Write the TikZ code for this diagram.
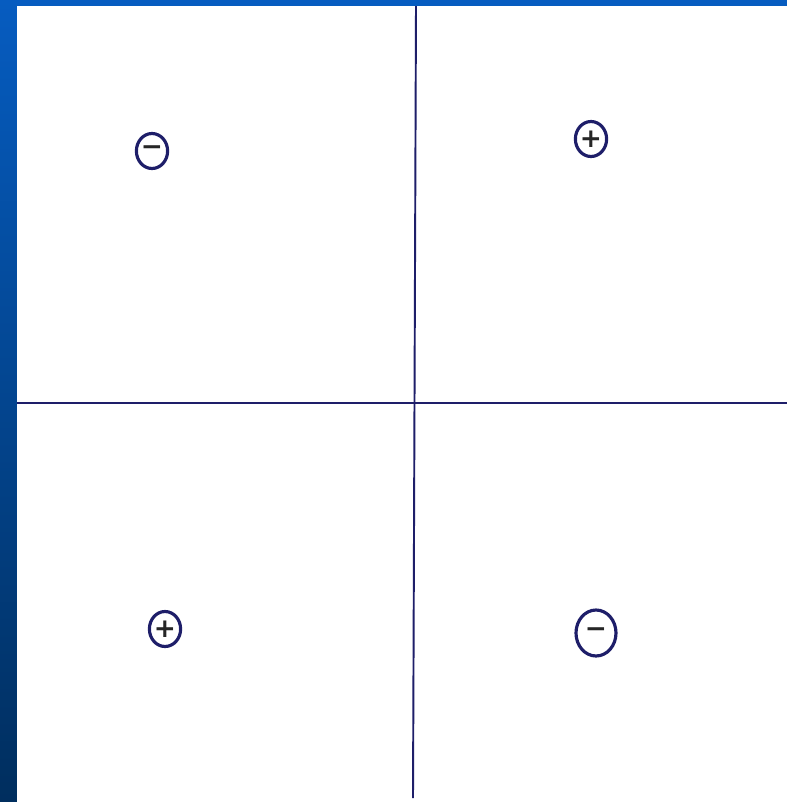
\documentclass[tikz,border=0pt]{standalone}
\usepackage{fontspec}
\newfontfamily\signfont{DejaVu Sans}
\usepackage{tikz}
\usetikzlibrary{shapes.geometric}
\definecolor{ink}{RGB}{30,30,105}
\definecolor{bandtop}{RGB}{6,92,192}
\definecolor{bandbot}{RGB}{0,46,94}
\newlength{\pxu}
\setlength{\pxu}{0.02cm}
\tikzset{sgn/.style={draw=ink, line width=1.8pt, ellipse, inner sep=0pt, minimum width=30\pxu, minimum height=35\pxu, text=black!85, font=\signfont\bfseries\fontsize{15}{15}\selectfont}}

\begin{document}
\begin{tikzpicture}[x=0.02cm,y=-0.02cm]
\shade[top color=bandtop, bottom color=bandbot] (0,0) rectangle (787,802);
\fill[white] (17,6) rectangle (787,802);
\useasboundingbox (0,0) rectangle (787,802);

\coordinate (N) at (416,6);
\coordinate (S) at (413,798);
\coordinate (W) at (17,403);
\coordinate (E) at (787,403);

\node[sgn] (Q2) at (152,151) {−};
\node[sgn] (Q1) at (591,139) {+};
\node[sgn] (Q3) at (165,629) {+};
\node[sgn, minimum width=40\pxu, minimum height=46\pxu] (Q4) at (596,633) {−};

\draw[ink, line width=1.2pt] (W) -- (E);
\draw[ink, line width=1.1pt] (N) -- (S);
\end{tikzpicture}
\end{document}
